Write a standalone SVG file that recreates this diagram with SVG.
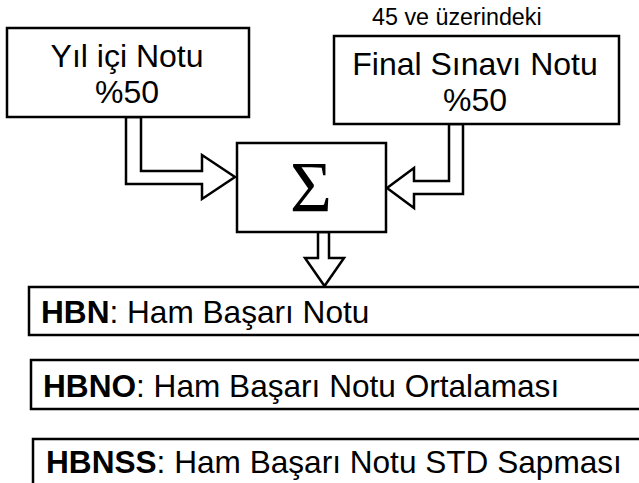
<svg xmlns="http://www.w3.org/2000/svg" width="639" height="483" viewBox="0 0 639 483">
<style>
.box{fill:#fff;stroke:#000;stroke-width:2.5}
.arr{fill:#fff;stroke:#000;stroke-width:2.5;stroke-linejoin:miter}
.t{font-family:"Liberation Sans",Arial,sans-serif;fill:#000}
.c{text-anchor:middle;font-size:32px}
.l{font-size:31.6px}
.b{font-weight:bold}
</style>
<rect width="639" height="483" fill="#fff"/>
<g id="connectors">
<path class="arr" d="M126,117 V184 H202 V199 L235,177 L202,155 V171 H141 V117 Z"/>
<path class="arr" d="M449,124 V181 H414 V168 L387,188 L414,208 V194 H463 V124 Z"/>
<path class="arr" d="M318,232 V258 H305 L324.5,286 L344,258 H329 V232 Z"/>
</g>
<g id="yilici">
<rect class="box" x="7" y="28" width="242" height="89"/>
<text class="t c" x="127" y="67">Yıl içi Notu</text>
<text class="t c" x="127" y="103">%50</text>
</g>
<g id="final">
<text class="t" x="372" y="25" font-size="23.3">45 ve üzerindeki</text>
<rect class="box" x="334" y="36" width="285" height="88"/>
<text class="t c" x="475" y="75">Final Sınavı Notu</text>
<text class="t c" x="475" y="111">%50</text>
</g>
<g id="sum">
<rect class="box" x="237" y="143" width="149" height="89"/>
<text x="311" y="211" text-anchor="middle" font-family="'Liberation Serif','Times New Roman',serif" font-size="72">Σ</text>
</g>
<g id="hbn">
<rect class="box" x="29" y="287" width="630" height="48"/>
<text class="t l" x="41" y="323"><tspan class="b">HBN</tspan>: Ham Başarı Notu</text>
</g>
<g id="hbno">
<rect class="box" x="31" y="360" width="630" height="49"/>
<text class="t l" x="43" y="397"><tspan class="b">HBNO</tspan>: Ham Başarı Notu Ortalaması</text>
</g>
<g id="hbnss">
<rect class="box" x="33" y="439" width="630" height="60"/>
<text class="t l" x="46" y="473"><tspan class="b">HBNSS</tspan>: Ham Başarı Notu STD Sapması</text>
</g>
</svg>
